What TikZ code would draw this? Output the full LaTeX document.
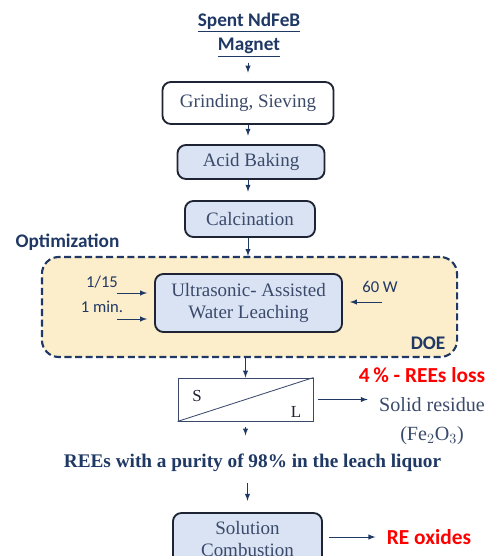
\documentclass[tikz,border=0pt]{standalone}
\usepackage{fontspec}
\setmainfont{Liberation Serif}
\newfontfamily\carlito{Carlito}
\definecolor{navy}{HTML}{1F3864}
\definecolor{slate}{HTML}{3B4A6B}
\definecolor{boxblue}{HTML}{DAE3F3}
\definecolor{doeyellow}{HTML}{FCEDCB}
\definecolor{lossred}{HTML}{FF0000}
\definecolor{edge}{HTML}{1E2433}

\begin{document}
\begin{tikzpicture}[x=0.025cm,y=-0.025cm,>=latex]
\tikzstyle{procbox}=[draw=edge, line width=1.3pt, rounded corners=6pt, fill=boxblue, text=slate, align=center, inner sep=0pt, font=\rmfamily\fontsize{13.5}{15.5}\selectfont]
\tikzstyle{heading}=[text=navy, align=center, inner sep=1pt, font=\carlito\bfseries\fontsize{13.7}{17}\selectfont]
\tikzstyle{label}=[text=navy, inner sep=0pt, font=\carlito\fontsize{11.8}{13}\selectfont]
\tikzstyle{loss}=[text=lossred, inner sep=0pt, font=\carlito\bfseries\fontsize{15.2}{17}\selectfont]
\tikzstyle{flow}=[->, draw=navy, line width=0.7pt]
\useasboundingbox (0,0) rectangle (489,556);
% feed
\node[heading] (magnet) at (249,35) {\underline{Spent NdFeB}\\\underline{Magnet}};
% pretreatment
\node[procbox, fill=white, minimum width=4.275cm, minimum height=1.05cm] (grind) at (248,103) {Grinding, Sieving};
\node[procbox, minimum width=3.675cm, minimum height=0.85cm] (bake) at (251,162) {Acid Baking};
\node[procbox, minimum width=3.25cm, minimum height=0.9cm] (calc) at (250,219) {Calcination};
% optimisation region
\node[heading, anchor=west] (opt) at (14,242) {Optimization};
\node[draw=navy, line width=1.5pt, dash pattern=on 5pt off 2.5pt, rounded corners=12pt, fill=doeyellow, minimum width=10.375cm, minimum height=2.5cm, inner sep=0pt] (doe) at (249.5,307) {};
\node[procbox, minimum width=4.675cm, minimum height=1.45cm] (leach) at (248.5,303) {Ultrasonic- Assisted\\Water Leaching};
\node[heading, anchor=east] (doetxt) at (447,343) {DOE};
\node[label] (ratio) at (102,282) {1/15};
\node[label] (time) at (102,307) {1 min.};
\node[label] (power) at (380,287) {60 W};
\coordinate (ratio0) at (117,293);
\coordinate (time0) at (117,319);
\coordinate (power0) at (382,302);
\draw[flow, shorten >=5pt] (ratio0) -- (ratio0 -| leach.west);
\draw[flow, shorten >=5pt] (time0) -- (time0 -| leach.west);
\draw[flow, shorten >=5pt] (power0) -- (power0 -| leach.east);
% separation
\node[draw=slate, line width=0.6pt, minimum width=3.375cm, minimum height=1.075cm, inner sep=0pt] (sep) at (245.5,399.5) {};
\draw[slate, line width=0.6pt] (sep.south west) -- (sep.north east);
\node[text=edge, font=\rmfamily\fontsize{12}{14}\selectfont] (s) at (197,396) {S};
\node[text=edge, font=\rmfamily\fontsize{12}{14}\selectfont] (l) at (296,412) {L};
\node[loss] (loss) at (422,375) {4\,\% - REEs loss};
\node[text=slate, align=center, inner sep=0pt, font=\rmfamily\fontsize{14.3}{21}\selectfont] (residue) at (432,421) {Solid residue\\(Fe$_2$O$_3$)};
\node[text=navy, inner sep=0pt, font=\rmfamily\bfseries\fontsize{13.7}{16}\selectfont] (purity) at (252.5,463) {REEs with a purity of 98\% in the leach liquor};
% combustion
\node[procbox, minimum width=3.725cm, minimum height=1.3cm] (comb) at (247.5,539) {Solution\\Combustion};
\node[loss] (oxides) at (429,537) {RE oxides};
% flow
\draw[flow, shorten <=3pt, shorten >=6pt] (magnet.south -| grind.north) -- (grind.north);
\draw[flow, shorten >=6pt] (grind.south) -- (grind.south |- bake.north);
\draw[flow, shorten >=6pt] (grind.south |- bake.south) -- (grind.south |- calc.north);
\draw[flow] (grind.south |- calc.south) -- (grind.south |- doe.north);
\draw[flow] (sep.north |- doe.south) -- (sep.north);
\draw[flow, shorten <=4pt] (sep.south) -- ++(0,14);
\draw[flow, shorten <=3pt, shorten >=8pt] (sep.east) -- (residue.west |- sep.east);
\draw[flow, shorten <=8pt, shorten >=8pt] (purity.south -| comb.north) -- (comb.north);
\draw[flow, shorten <=4pt, shorten >=8pt] (comb.east |- oxides.west) -- (oxides.west);
\end{tikzpicture}
\end{document}
